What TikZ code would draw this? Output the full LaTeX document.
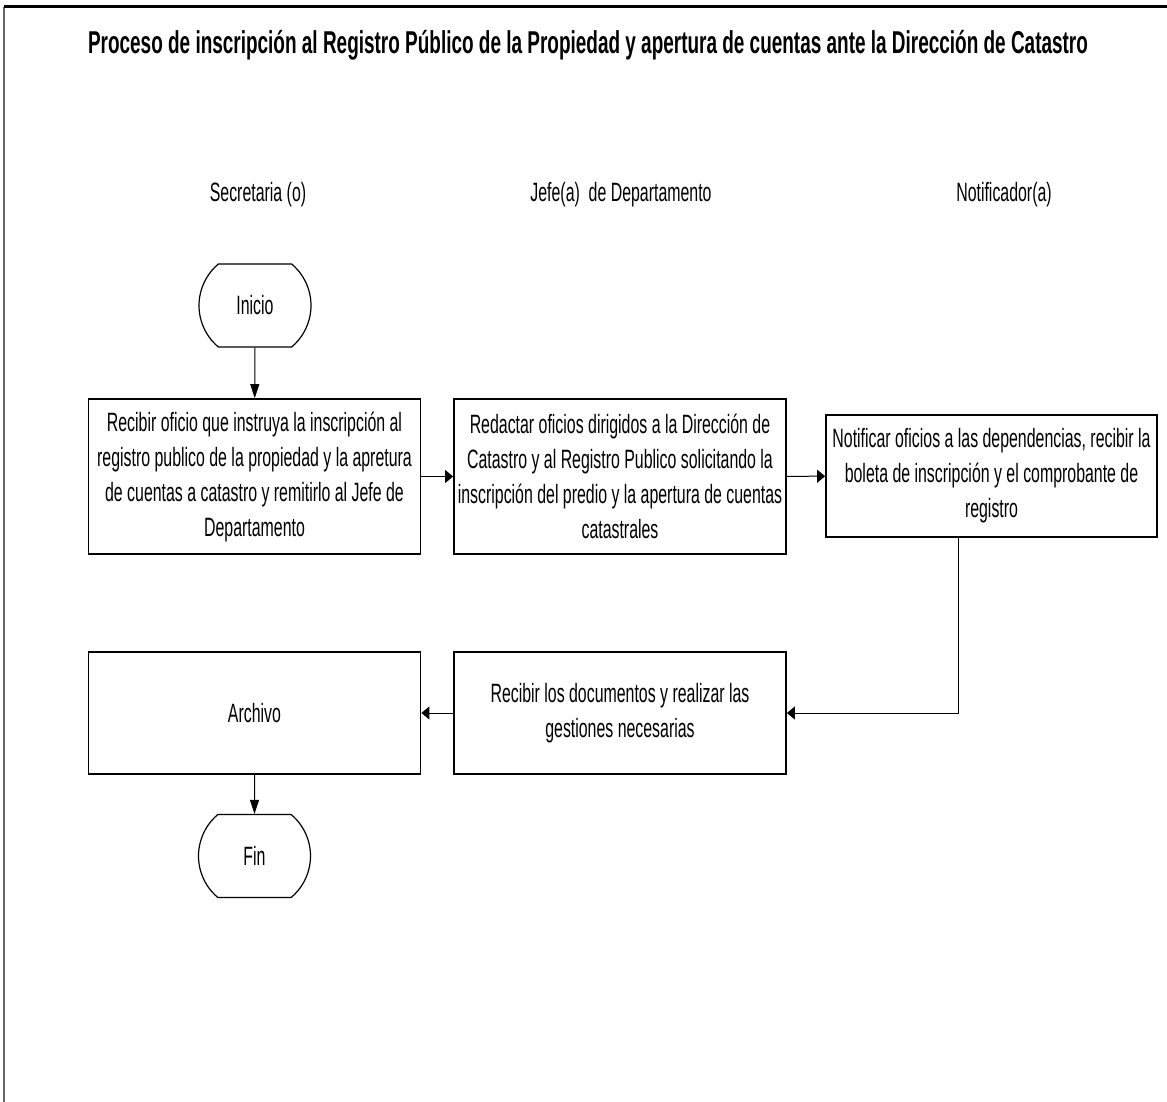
\documentclass[tikz,border=0pt]{standalone}
\usepackage{fontspec}
\setmainfont{Liberation Sans}[FakeStretch=0.6]
\usetikzlibrary{arrows.meta,shapes.misc}

\tikzset{
  proc/.style={draw, line width=0.9pt, align=center, inner sep=0pt, minimum width=166pt},
  term/.style={draw, rounded rectangle, rounded rectangle arc length=100, line width=0.6pt,
    inner sep=0pt, minimum width=56pt, minimum height=41.5pt},
  lane/.style={inner sep=0pt},
  harrow/.style={-{Triangle[length=4pt,width=6.5pt]}, line width=0.5pt},
  varrow/.style={-{Triangle[length=7pt,width=4.5pt]}, line width=0.5pt},
}

\begin{document}
\begin{tikzpicture}[x=0.5pt, y=-0.5pt, font=\fontsize{13.25}{17.5}\selectfont]
        \useasboundingbox (0,0) rectangle (1167,1102);
        %Frame
        \draw[black!60, line width=1pt] (4,1102) -- (4,7);
        \draw[line width=1.5pt] (3.5,7) -- (1167,7);
        %Title and lanes
        \node[lane, font=\fontsize{15.8}{19}\selectfont\bfseries] (title) at (588,45)
          {Proceso de inscripción al Registro Público de la Propiedad y apertura de cuentas ante la Dirección de Catastro};
        \node[lane] (sec) at (258,195) {Secretaria (o)};
        \node[lane] (jefe) at (621,195) {Jefe(a)~ de Departamento};
        \node[lane] (noti) at (1004,195) {Notificador(a)};
        %Steps
        \node[term] (ini) at (255,305.5) {Inicio};
        \node[proc, minimum height=77.5pt] (recibir) at (254.5,476.5)
          {Recibir oficio que instruya la inscripción al\\registro publico de la propiedad y la apretura\\de cuentas a catastro y remitirlo al Jefe de\\Departamento};
        \node[proc, minimum height=77.5pt] (redactar) at (620,476.5)
          {Redactar oficios dirigidos a la Dirección de\\Catastro y al Registro Publico solicitando la\\inscripción del predio y la apertura de cuentas\\catastrales};
        \node[proc, minimum width=165.5pt, minimum height=61pt] (notificar) at (991.5,476)
          {Notificar oficios a las dependencias, recibir la\\boleta de inscripción y el comprobante de\\registro};
        \node[proc, minimum height=61pt] (gestion) at (620,713)
          {Recibir los documentos y realizar las\\gestiones necesarias};
        \node[proc, minimum height=61pt] (archivo) at (254.5,713) {Archivo};
        \node[term] (fin) at (254.5,856) {Fin};
        \coordinate (c1) at (958,713);
        %Connectors
        \draw[varrow] (ini) -- (recibir);
        \draw[harrow] (recibir) -- (redactar);
        \draw[harrow] (redactar) -- (notificar);
        \draw[harrow] (notificar.south -| c1) -- (c1) -- (gestion);
        \draw[harrow] (gestion) -- (archivo);
        \draw[varrow] (archivo) -- (fin);
      \end{tikzpicture}
\end{document}
